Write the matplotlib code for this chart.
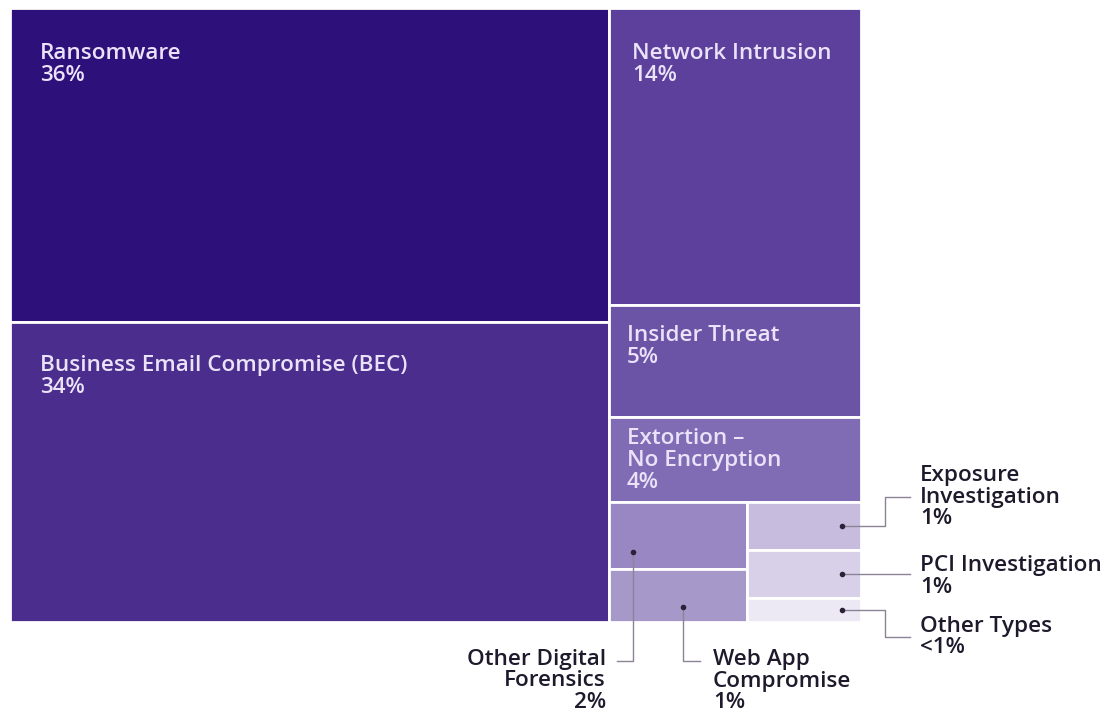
import matplotlib
matplotlib.use("Agg")
import matplotlib.pyplot as plt
from matplotlib.patches import Rectangle

# ---- data ----
categories = ["Ransomware", "Business Email Compromise (BEC)", "Network Intrusion",
              "Insider Threat", "Extortion \u2013\nNo Encryption", "Other Digital\nForensics",
              "Web App\nCompromise", "Exposure\nInvestigation", "PCI Investigation", "Other Types"]
shares = [36.0, 34.3, 14.3, 5.4, 4.1, 1.76, 1.39, 1.05, 1.05, 0.52]
pct_labels = ["36%", "34%", "14%", "5%", "4%", "2%", "1%", "1%", "1%", "<1%"]
colors = ["#2E107A", "#4A2D8C", "#5C409C", "#6B54A6", "#806CB4",
          "#9887C3", "#A699CA", "#C7BBDE", "#D8D0E8", "#ECE8F4"]

# layout tree: ('h' = side by side, 'v' = stacked), leaves are indices
tree = ('h', [('v', [0, 1]),
              ('v', [2, 3, 4, ('h', [('v', [5, 6]), ('v', [7, 8, 9])])])])

W, H = 1105, 712
fig = plt.figure(figsize=(W / 100, H / 100), dpi=100)
ax = fig.add_axes([0, 0, 1, 1])
ax.set_xlim(0, W)
ax.set_ylim(H, 0)
ax.axis("off")

FONT = "Open Sans"
FS = 16.2
LS = 1.06
rects = {}


def total(node):
    if isinstance(node, int):
        return shares[node]
    return sum(total(c) for c in node[1])


def layout(node, x, y, w, h):
    if isinstance(node, int):
        rects[node] = (x, y, w, h)
        return
    orient, children = node
    t = total(node)
    pos = 0.0
    for c in children:
        f = total(c) / t
        if orient == 'h':
            layout(c, x + pos * w, y, f * w, h)
        else:
            layout(c, x, y + pos * h, w, f * h)
        pos += f


layout(tree, 10, 8, 851, 614)

for i, (x, y, w, h) in rects.items():
    ax.add_patch(Rectangle((x, y), w, h, facecolor=colors[i], edgecolor="white", linewidth=2))

# inside labels: (index, dx, dy) offsets from rect top-left in pixels
inside = [(0, 30, 35), (1, 30, 33), (2, 23, 35), (3, 18, 20), (4, 18, 11)]
for i, dx, dy in inside:
    x, y, w, h = rects[i]
    ax.text(x + dx, y + dy, categories[i] + "\n" + pct_labels[i], ha="left", va="top",
            color="#EAE2F8", fontsize=FS, family=FONT, fontweight="semibold", linespacing=LS)

TXT = "#1E1A2C"
LINE = "#8A8494"


def dot(px, py):
    ax.plot([px], [py], marker="o", markersize=3, color="#2A2338", zorder=5)


def path(pts):
    ax.plot([p[0] for p in pts], [p[1] for p in pts], color=LINE, linewidth=1, zorder=4)


# right-side small categories
for i, ty, kind in [(7, 497, "up"), (8, 572, "flat"), (9, 637, "down")]:
    x, y, w, h = rects[i]
    px, py = x + w - 19, y + h / 2
    dot(px, py)
    if kind == "flat":
        path([(px, py), (910, py)])
        ty = py + 2
    else:
        path([(px, py), (885, py), (885, ty), (910, ty)])
    ax.text(920, ty, categories[i] + "\n" + pct_labels[i], ha="left", va="center",
            color=TXT, fontsize=FS, family=FONT, fontweight="semibold", linespacing=LS)

# bottom small categories
x, y, w, h = rects[5]
px, py = x + 24, y + h * 0.75
dot(px, py)
path([(px, py), (px, 661), (617, 661)])
ax.text(606, 681, categories[5] + "\n" + pct_labels[5], ha="right", va="center",
        multialignment="right", color=TXT, fontsize=FS, family=FONT,
        fontweight="semibold", linespacing=LS)

x, y, w, h = rects[6]
px, py = x + 74, y + h * 0.72
dot(px, py)
path([(px, py), (px, 661), (700, 661)])
ax.text(713, 681, categories[6] + "\n" + pct_labels[6], ha="left", va="center",
        multialignment="left", color=TXT, fontsize=FS, family=FONT,
        fontweight="semibold", linespacing=LS)

fig.savefig("out.png", dpi=100, facecolor="white")
